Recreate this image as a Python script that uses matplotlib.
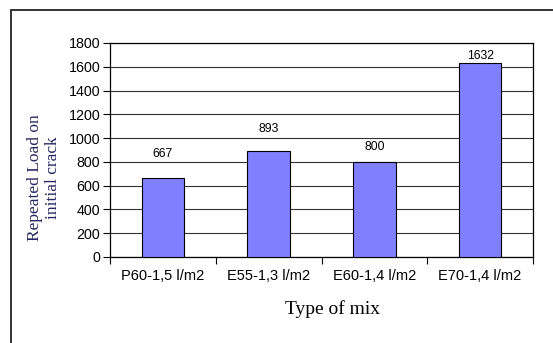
import matplotlib.pyplot as plt
from matplotlib.patches import Rectangle

# data
mixes = ["P60-1,5 l/m2", "E55-1,3 l/m2", "E60-1,4 l/m2", "E70-1,4 l/m2"]
loads = [667, 893, 800, 1632]
yticks = [0, 200, 400, 600, 800, 1000, 1200, 1400, 1600, 1800]

# label offsets above bars (points), as placed in the original
label_offsets = [17, 16, 11, 5]

fig = plt.figure(figsize=(5.53, 3.43), dpi=100)
ax = fig.add_axes([110/553, 1-257/343, (533-110)/553, (257-43)/343])

# outer chart frame
fig.patches.append(Rectangle((11/553, -0.05), 1.2, 1.05 - 10/343,
                             transform=fig.transFigure, fill=False,
                             edgecolor='#222222', linewidth=1.3))

x = list(range(len(mixes)))
bars = ax.bar(x, loads, width=0.4, color='#8080ff', edgecolor='black',
              linewidth=0.8, zorder=3)

for xi, v, off in zip(x, loads, label_offsets):
    ax.annotate(str(v), (xi, v), xytext=(0, off), textcoords='offset points',
                ha='center', va='center', fontsize=8.8,
                family='Liberation Sans')

ax.set_xlim(-0.5, len(mixes) - 0.5)
ax.set_ylim(0, 1800)
ax.set_yticks(yticks)
ax.set_yticklabels([str(t) for t in yticks], family='Liberation Sans', fontsize=10.3)
ax.yaxis.grid(True, color='#333333', linewidth=0.8, zorder=0)

ax.set_xticks(x)
ax.set_xticklabels(mixes, family='Liberation Sans', fontsize=10.5)
ax.set_xticks([i - 0.5 for i in range(len(mixes) + 1)], minor=True)
ax.tick_params(axis='x', which='major', length=0, pad=9)
ax.tick_params(axis='x', which='minor', length=5, width=0.8, direction='out')
ax.tick_params(axis='y', length=5, width=0.8, direction='out', pad=2)

for s in ax.spines.values():
    s.set_linewidth(0.9)
    s.set_color('black')

ax.set_xlabel("Type of mix", family='Liberation Serif', fontsize=14)
ax.xaxis.set_label_coords(0.525, -0.20)

fig.text(44/553, 1-178/343, "Repeated Load on\ninitial crack", rotation=90,
         ha='center', va='center', family='Liberation Serif', fontsize=12.5,
         color='#262660', linespacing=1.1)

fig.savefig("out.png", dpi=100)
